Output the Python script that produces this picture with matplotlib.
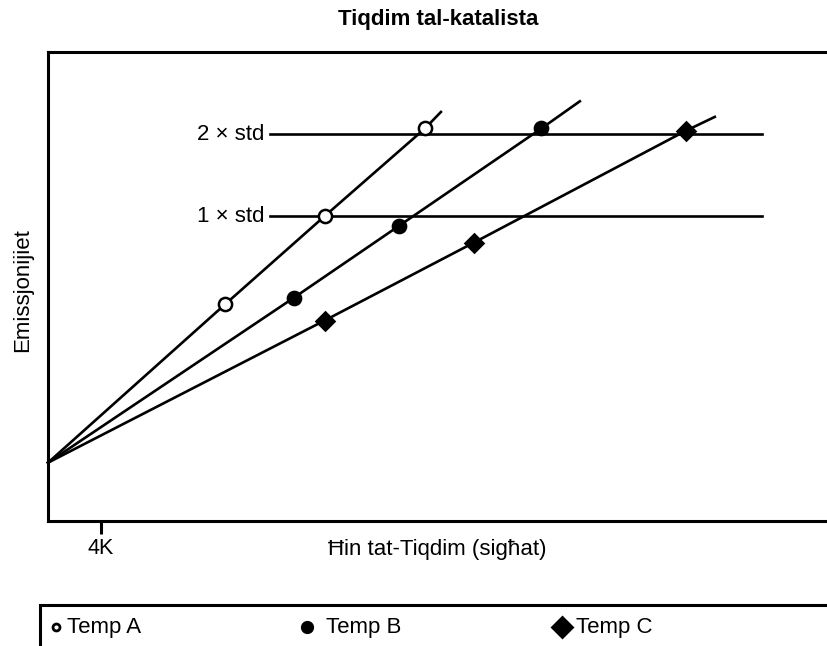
import matplotlib
matplotlib.use("Agg")
import matplotlib.pyplot as plt
from matplotlib.lines import Line2D
from matplotlib.patches import Rectangle

plt.rcParams["font.family"] = ["Liberation Sans", "DejaVu Sans"]

# Curves start at the origin, pass through the measured points, then run on a bit
TEMP_A_X = [0, 13.4, 20.9, 28.5, 29.7]
TEMP_A_Y = [0, 1.93, 3.00, 4.07, 4.27]
TEMP_B_X = [0, 18.6, 26.5, 37.3, 40.2]
TEMP_B_Y = [0, 2.01, 2.88, 4.07, 4.40]
TEMP_C_X = [0, 20.9, 32.2, 48.2, 50.4]
TEMP_C_Y = [0, 1.73, 2.68, 4.04, 4.21]

STD_LEVELS = [4.0, 3.0]
STD_LABELS = ["2 × std", "1 × std"]
STD_X_RANGE = (16.8, 54.0)

X_TICKS = [4]
X_TICK_LABELS = ["4K"]

# name, x, y, marker, face, plot marker size, legend marker size
SERIES = [
    ("Temp A", TEMP_A_X, TEMP_A_Y, "o", "white", 9.5, 5.0),
    ("Temp B", TEMP_B_X, TEMP_B_Y, "o", "black", 9.5, 7.5),
    ("Temp C", TEMP_C_X, TEMP_C_Y, "D", "black", 9.5, 10.0),
]

W, H = 827, 646
fig = plt.figure(figsize=(W / 100, H / 100), dpi=100)
ax = fig.add_axes([48 / W, 1 - 521 / H, (900 - 48) / W, (521 - 52) / H])

for name, xs, ys, marker, face, ms, _lms in SERIES:
    ax.plot(xs, ys, color="black", linewidth=1.9, marker=marker,
            markevery=[1, 2, 3], markersize=ms, markerfacecolor=face,
            markeredgecolor="black", markeredgewidth=1.8, zorder=3,
            clip_on=False)

for level, label in zip(STD_LEVELS, STD_LABELS):
    ax.plot(STD_X_RANGE, [level, level], color="black", linewidth=1.9, zorder=2)
    ax.annotate(label, (STD_X_RANGE[0], level), xytext=(-4, 0),
                textcoords="offset points", ha="right", va="center",
                fontsize=16)

ax.set_xlim(0, 64.4)
ax.set_ylim(-0.71, 5.0)
ax.set_xticks(X_TICKS)
ax.set_xticklabels(X_TICK_LABELS, fontsize=15.5)
ax.set_yticks([])
ax.tick_params(axis="x", length=9, width=2.2, pad=3)
for side in ax.spines.values():
    side.set_linewidth(2.2)
ax.spines["right"].set_visible(False)

fig.text(438 / W, 1 - 19 / H, "Tiqdim tal-katalista", ha="center",
         va="center", fontsize=16, fontweight="bold")
fig.text(23 / W, 1 - 290 / H, "Emissjonijiet", rotation=90, ha="center",
         va="center", fontsize=16)
fig.text(437 / W, 1 - 550 / H, "Ħin tat-Tiqdim (sigħat)", ha="center",
         va="center", fontsize=16)

# Legend box, running off the right and bottom edges like the original
fig.add_artist(Rectangle((40 / W, -0.1), (900 - 40) / W, 0.1 + (646 - 605) / H,
                         transform=fig.transFigure, fill=False,
                         edgecolor="black", linewidth=2.2))
legend_pos = [(56, 67), (307, 326), (562, 576)]
ly = 1 - 627 / H
for (name, xs, ys, marker, face, ms, lms), (mx, tx) in zip(SERIES, legend_pos):
    fig.add_artist(Line2D([mx / W], [ly], marker=marker, markersize=lms,
                          markerfacecolor=face, markeredgecolor="black",
                          markeredgewidth=2.0, linestyle="none",
                          transform=fig.transFigure))
    fig.text(tx / W, ly, name, ha="left", va="center", fontsize=16)

fig.savefig("out.png", dpi=100)
